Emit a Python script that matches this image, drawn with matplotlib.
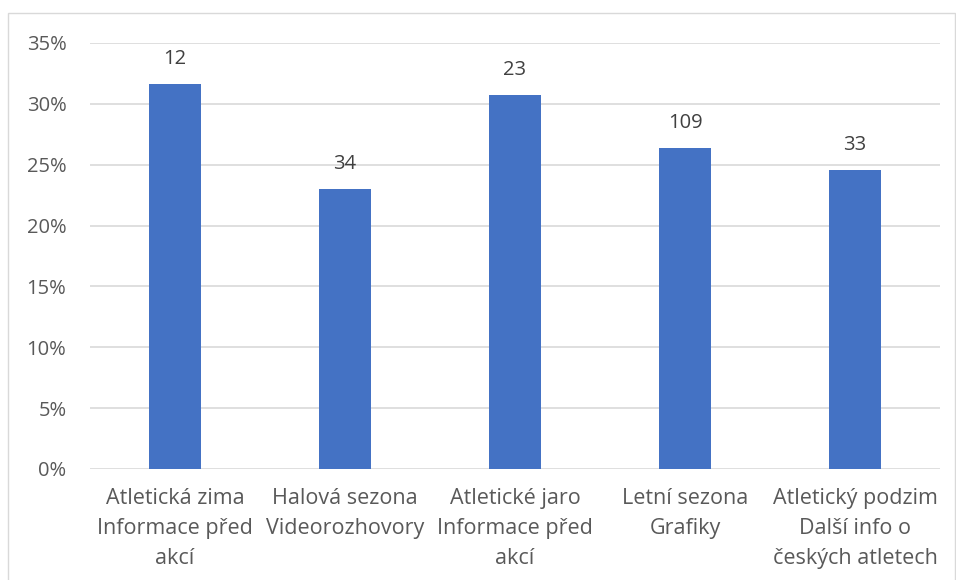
import matplotlib
matplotlib.use("Agg")
import matplotlib.pyplot as plt
from matplotlib.patches import Rectangle
from matplotlib.ticker import PercentFormatter

categories = ["Atletická zima\nInformace před\nakcí",
              "Halová sezona\nVideorozhovory",
              "Atletické jaro\nInformace před\nakcí",
              "Letní sezona\nGrafiky",
              "Atletický podzim\nDalší info o\nčeských atletech"]
shares = [0.316, 0.230, 0.307, 0.264, 0.246]
counts = ["12", "34", "23", "109", "33"]
yticks = [0, 0.05, 0.10, 0.15, 0.20, 0.25, 0.30, 0.35]

plt.rcParams['font.family'] = ['Open Sans', 'DejaVu Sans']
txt = '#595959'

fig = plt.figure(figsize=(9.56, 5.8), dpi=100)
fig.patches.append(Rectangle((8/956, -0.01), (955-8)/956, (580-13)/580 + 0.01,
                             transform=fig.transFigure, fill=False,
                             edgecolor='#D9D9D9', linewidth=1))
ax = fig.add_axes([90/956, 111/580, 850/956, 426/580])
x = list(range(len(categories)))
ax.bar(x, shares, width=0.31, color='#4472C4', zorder=3)
for xi, v, c in zip(x, shares, counts):
    ax.annotate(c, (xi, v), xytext=(0, 18), textcoords='offset points',
                ha='center', va='center', fontsize=14.5, color='#404040')
ax.set_xlim(-0.5, 4.5)
ax.set_ylim(0, 0.35)
ax.set_yticks(yticks)
ax.yaxis.set_major_formatter(PercentFormatter(1.0, decimals=0))
ax.set_xticks(x)
ax.set_xticklabels(categories, linespacing=1.55)
ax.tick_params(axis='y', length=0, labelsize=14.5, colors=txt, pad=17)
ax.tick_params(axis='x', length=0, labelsize=15.5, colors=txt, pad=14)
for s in ax.spines.values():
    s.set_visible(False)
ax.grid(axis='y', color='#D9D9D9', linewidth=1.2, zorder=0)
ax.set_axisbelow(True)
fig.savefig('out.png', dpi=100)
